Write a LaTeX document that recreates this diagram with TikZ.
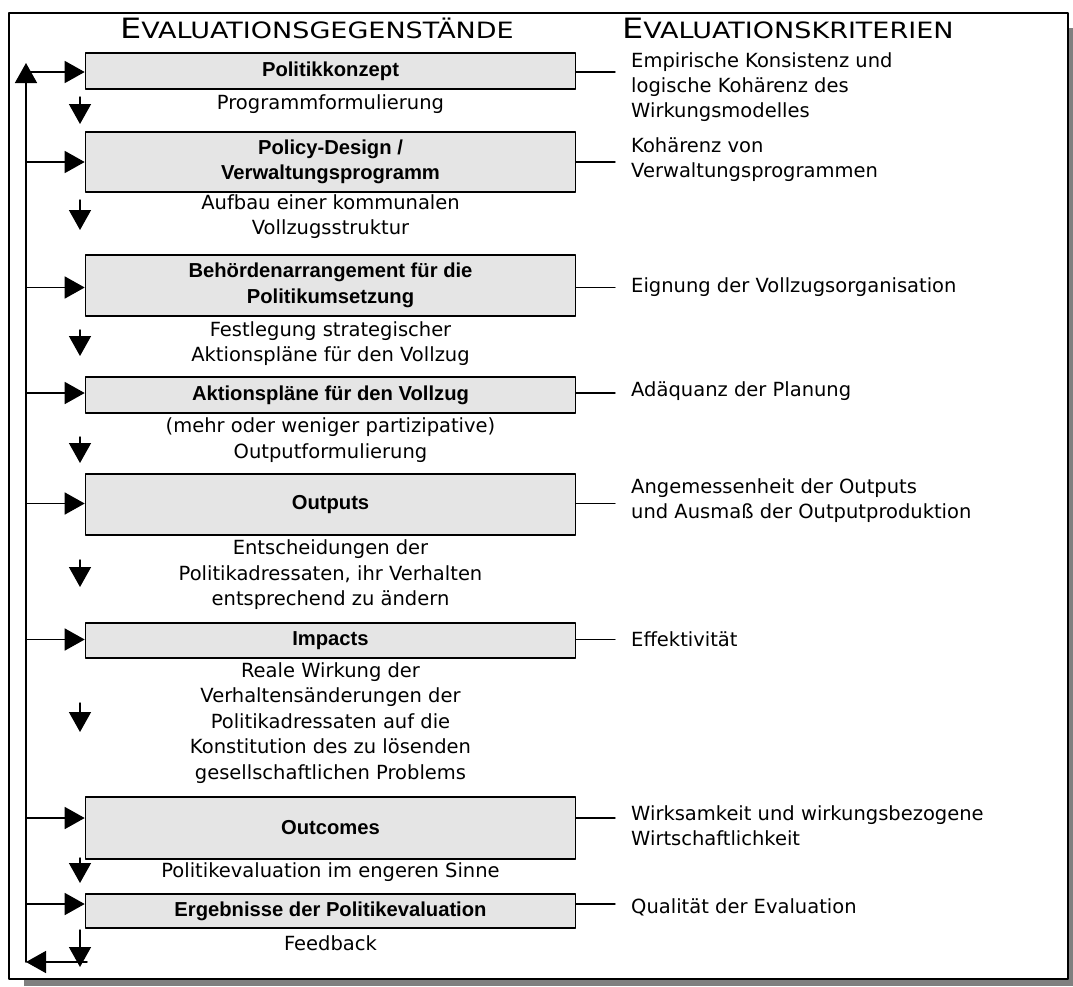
\documentclass[tikz,border=0pt]{standalone}
\usepackage{fontspec}
\setmainfont{DejaVu Sans}
\newfontfamily\boxfont{Liberation Sans}
\newfontfamily\headfont{DejaVu Sans}[FakeStretch=1.2]
\usetikzlibrary{arrows.meta}
\definecolor{boxgray}{RGB}{229,229,229}
\definecolor{shadowgray}{RGB}{128,128,128}
\newcommand{\capshead}[2]{{\headfont\fontsize{28}{28}\selectfont #1\fontsize{22.5}{22.5}\selectfont #2}}

\begin{document}
\begin{tikzpicture}[line cap=round,line join=round,x=1pt,y=-1pt,
  stage/.style={draw=black,line width=1.6pt,fill=boxgray,minimum width=490pt,inner sep=0pt,
    align=center,font=\boxfont\bfseries\fontsize{20.2}{25.5}\selectfont},
  trans/.style={align=center,inner sep=0pt,font=\fontsize{19.5}{25.5}\selectfont},
  crit/.style={align=left,anchor=west,inner sep=0pt,font=\fontsize{19.5}{25}\selectfont},
  hdr/.style={anchor=base west,inner sep=0pt},
  arr/.style={line width=1.5pt,-{Triangle[length=20pt,width=22pt]}},
  link/.style={line width=1.4pt}]
\useasboundingbox (0,0) rectangle (1073,986);
\fill[white] (0,0) rectangle (1073,986);
% frame with shadow
\fill[shadowgray] (24,979) rectangle (1073,986);
\fill[shadowgray] (1068,28) rectangle (1073,986);
\draw[line width=2.2pt] (9,13) rectangle (1068,979);
% headings
\node[hdr] (hleft) at (120,38) {\capshead{E}{VALUATIONSGEGENSTÄNDE}};
\node[hdr] (hright) at (622,38) {\capshead{E}{VALUATIONSKRITERIEN}};
% evaluation objects
\node[stage,minimum height=36pt] (pk) at (330.5,71) {Politikkonzept};
\node[stage,minimum height=60pt] (pd) at (330.5,162) {Policy-Design /\\Verwaltungsprogramm};
\node[stage,minimum height=61pt] (ba) at (330.5,285.5) {Behördenarrangement für die\\Politikumsetzung};
\node[stage,minimum height=36pt] (ap) at (330.5,395) {Aktionspläne für den Vollzug};
\node[stage,minimum height=61pt] (op) at (330.5,504.5) {Outputs};
\node[stage,minimum height=35pt] (ip) at (330.5,640.5) {Impacts};
\node[stage,minimum height=62pt] (oc) at (330.5,828) {Outcomes};
\node[stage,minimum height=34pt] (er) at (330.5,911) {Ergebnisse der Politikevaluation};
% steps between them
\node[trans] (t1) at (330.5,104) {Programmformulierung};
\node[trans] (t2) at (330.5,216.5) {Aufbau einer kommunalen\\Vollzugsstruktur};
\node[trans] (t3) at (330.5,343.5) {Festlegung strategischer\\Aktionspläne für den Vollzug};
\node[trans] (t4) at (330.5,440) {(mehr oder weniger partizipative)\\Outputformulierung};
\node[trans] (t5) at (330.5,575) {Entscheidungen der\\Politikadressaten, ihr Verhalten\\entsprechend zu ändern};
\node[trans] (t6) at (330.5,723) {Reale Wirkung der\\Verhaltensänderungen der\\Politikadressaten auf die\\Konstitution des zu lösenden\\gesellschaftlichen Problems};
\node[trans] (t7) at (330.5,872) {Politikevaluation im engeren Sinne};
\node[trans] (t8) at (330.5,943) {Feedback};
% criteria
\node[crit] (c1) at (631,87) {Empirische Konsistenz und\\logische Kohärenz des\\Wirkungsmodelles};
\node[crit] (c2) at (631,160) {Kohärenz von\\Verwaltungsprogrammen};
\node[crit] (c3) at (631,287) {Eignung der Vollzugsorganisation};
\node[crit] (c4) at (631,391) {Adäquanz der Planung};
\node[crit] (c5) at (631,500.5) {Angemessenheit der Outputs\\und Ausmaß der Outputproduktion};
\node[crit] (c6) at (631,639) {Effektivität};
\node[crit] (c7) at (631,825.5) {Wirksamkeit und wirkungsbezogene\\Wirtschaftlichkeit};
\node[crit] (c8) at (631,907) {Qualität der Evaluation};
% feedback loop
\coordinate (fb) at (26,962);
\coordinate (ftop) at (26,63);
\coordinate (fr) at (87,962);
\draw[arr] (fr) -- (fb);
\draw[arr] (fb) -- (ftop);
\foreach \b/\c/\s in {pk/c1/-1,pd/c2/0,ba/c3/-2,ap/c4/2,op/c5/1,ip/c6/1,oc/c7/10,er/c8/7}{
  \draw[arr] ([yshift=\s pt]\b.west -| fb) -- ([yshift=\s pt]\b.west);
  \draw[link,shorten >=16pt] ([yshift=\s pt]\b.east) -- ([yshift=\s pt]\b.east -| \c.west);
}
% down arrows
\foreach \n/\ya/\yb in {1/97/124,2/200/230,3/330/356,4/437/463,5/560/587,6/703/732,7/858/883,8/930/967}{
  \coordinate (s\n) at (80,\ya);
  \coordinate (e\n) at (80,\yb);
  \draw[arr] (s\n) -- (e\n);
}
\end{tikzpicture}
\end{document}
